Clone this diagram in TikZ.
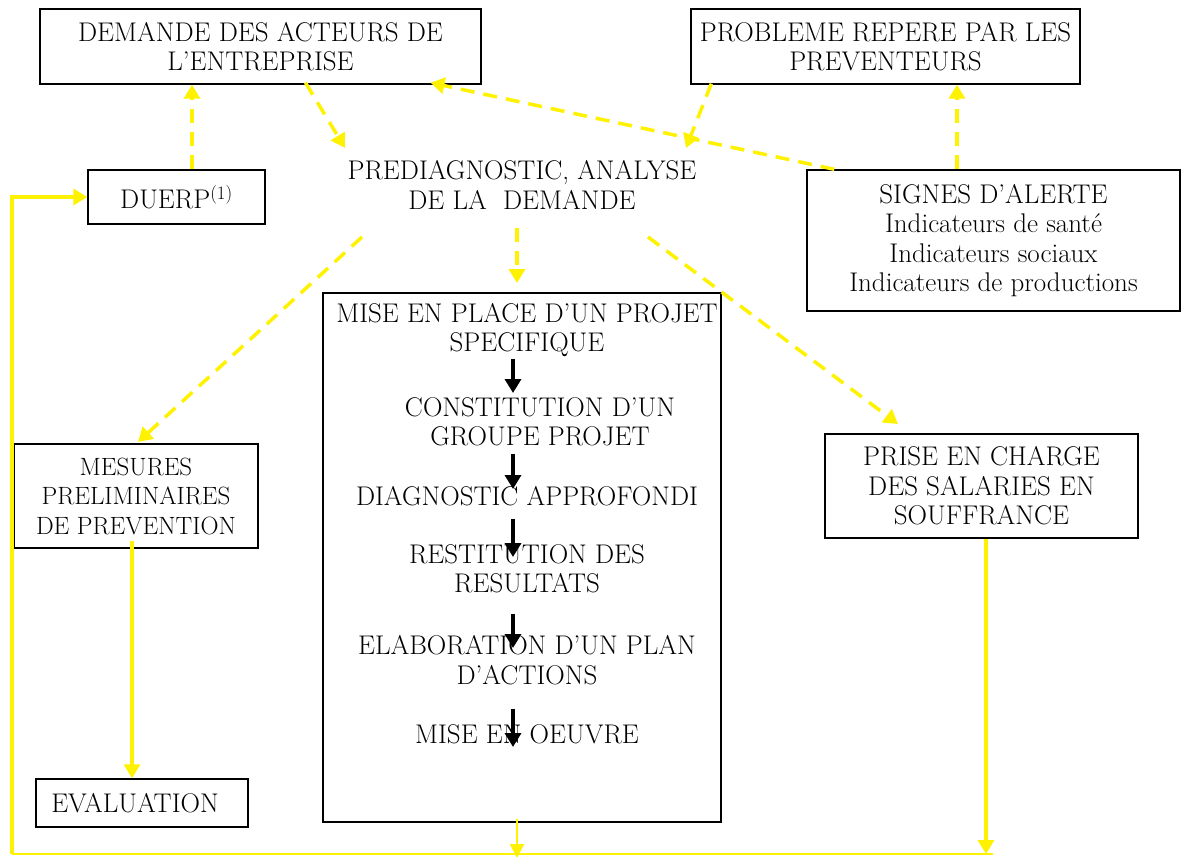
\documentclass[tikz,border=0pt]{standalone}
\usepackage{fontspec}
\usetikzlibrary{arrows.meta}
\newcommand\dfont{\fontsize{27}{29.5}\selectfont}
\newcommand\sfontm{\fontsize{25}{29.5}\selectfont}
\begin{document}
\begin{tikzpicture}[x=1pt,y=-1pt,
  box/.style={draw=black,line width=1.4pt,inner sep=0pt,align=center,font=\dfont,fill=white},
  txt/.style={inner sep=0pt,align=center,font=\dfont},
  ydash/.style={draw=yellow,line width=3.5pt,dash pattern=on 14pt off 9pt,-{Triangle[length=14pt,width=16pt]}},
  ysolid/.style={draw=yellow,line width=3.5pt,-{Triangle[length=14pt,width=16pt]}},
  ythin/.style={draw=yellow,line width=2pt},
  blk/.style={draw=black,line width=4.5pt,-{Triangle[length=14pt,width=16pt]}}
]
\useasboundingbox (0,0) rectangle (1190,856);

% boxes
\node[box,minimum width=441pt,minimum height=75pt] (demande) at (260.5,46.5) {DEMANDE DES ACTEURS DE\\L’ENTREPRISE};
\node[box,minimum width=389pt,minimum height=75pt] (probleme) at (885.5,46.5) {PROBLEME REPERE PAR LES\\PREVENTEURS};
\node[box,minimum width=177pt,minimum height=54pt] (duerp) at (176.5,197) {DUERP\textsuperscript{(1)}};
\node[txt] (prediag) at (522,185) {PREDIAGNOSTIC, ANALYSE\\DE LA\ \ DEMANDE};
\node[box,minimum width=373pt,minimum height=141pt] (signes) at (993.5,240.5) {SIGNES D’ALERTE\\Indicateurs de santé\\Indicateurs sociaux\\Indicateurs de productions};
\node[box,minimum width=398pt,minimum height=529pt] (mise) at (522,557.5) {};
\node[box,minimum width=244pt,minimum height=104pt,font=\sfontm] (mesures) at (136,496) {MESURES\\PRELIMINAIRES\\DE PREVENTION};
\node[box,minimum width=212pt,minimum height=48pt] (evaluation) at (142,803) {EVALUATION\hspace*{14pt}};
\node[box,minimum width=313pt,minimum height=104pt] (prise) at (981.5,486) {PRISE EN CHARGE\\DES SALARIES EN\\SOUFFRANCE};

% texts in the project box
\node[txt] (t1) at (527,330) {MISE EN PLACE D’UN PROJET\\SPECIFIQUE};
\node[txt] (t2) at (540,422) {CONSTITUTION D’UN\\GROUPE PROJET};
\node[txt] (t3) at (527,496) {DIAGNOSTIC APPROFONDI};
\node[txt] (t4) at (527,569) {RESTITUTION DES\\RESULTATS};
\node[txt] (t5) at (527,660) {ELABORATION D’UN PLAN\\D’ACTIONS};
\node[txt] (t6) at (527,734) {MISE EN OEUVRE};

% coordinates
\coordinate (a1s) at (513,359); \coordinate (a1e) at (513,393);
\coordinate (a2s) at (513,454); \coordinate (a2e) at (513,489);
\coordinate (a3s) at (513,519); \coordinate (a3e) at (513,557);
\coordinate (a4s) at (513,614); \coordinate (a4e) at (513,648);
\coordinate (a5s) at (513,709); \coordinate (a5e) at (513,747);

\coordinate (pIn) at (345,148);
\coordinate (pIn2) at (686,148);
\coordinate (pOutL) at (362,237);
\coordinate (pOutM) at (517,228);
\coordinate (pOutR) at (648,237);
\coordinate (miseTip) at (517,283);
\coordinate (priseTip) at (898,424);
\coordinate (mesTip) at (138,442);
\coordinate (loopL) at (12,854);
\coordinate (loopR) at (993,854);

% black arrows
\draw[blk] (a1s) -- (a1e);
\draw[blk] (a2s) -- (a2e);
\draw[blk] (a3s) -- (a3e);
\draw[blk] (a4s) -- (a4e);
\draw[blk] (a5s) -- (a5e);

% dashed yellow arrows
\draw[ydash] ([xshift=15.5pt]duerp.north) -- ([xshift=15.5pt]duerp.north |- demande.south);
\draw[ydash] ([xshift=45pt,yshift=2pt]demande.south) -- (pIn);
\draw[ydash] ([xshift=28pt]signes.north west) -- ([xshift=170pt,yshift=2pt]demande.south);
\draw[ydash] ([xshift=21pt,yshift=1pt]probleme.south west) -- (pIn2);
\draw[ydash] ([xshift=-36.5pt]signes.north) -- ([xshift=-36.5pt]signes.north |- probleme.south);
\draw[ydash] (pOutL) -- (mesTip);
\draw[ydash] (pOutM) -- (miseTip);
\draw[ydash] (pOutR) -- (priseTip);

% solid yellow arrows
\draw[ysolid] ([xshift=-4pt,yshift=8pt]mesures.south) -- ([xshift=-10pt]evaluation.north);
\draw[ysolid] ([xshift=4.5pt]prise.south) -- ([xshift=4.5pt]prise.south |- loopL);
\draw[ythin,-{Triangle[length=14pt,width=14pt]}] ([xshift=-5pt,yshift=4pt]mise.south) -- ([xshift=-5pt,yshift=-4pt]mise.south |- loopL);
\draw[ythin] (loopL) -- (loopR);
\draw[ysolid] (loopL) |- (duerp.west);
\end{tikzpicture}
\end{document}
